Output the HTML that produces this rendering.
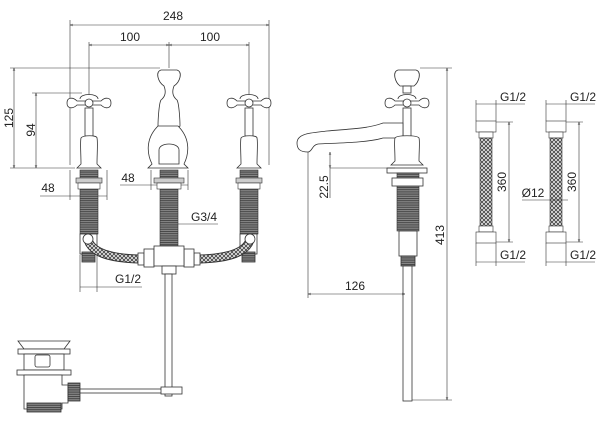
<!DOCTYPE html>
<html><head><style>body{margin:0;background:#fff}svg{display:block}text{font-family:"Liberation Sans",sans-serif;font-size:12px;fill:#222}</style></head><body>
<svg width="600" height="441" viewBox="0 0 600 441" xmlns="http://www.w3.org/2000/svg">
<defs>
<pattern id="thr" width="4" height="2.2" patternUnits="userSpaceOnUse"><rect width="4" height="2.2" fill="#888"/><rect width="4" height="1" fill="#444"/></pattern>
<pattern id="br" width="4" height="4" patternUnits="userSpaceOnUse"><rect width="4" height="4" fill="#eee"/><path d="M0 0L4 4M4 0L0 4" stroke="#444" stroke-width="0.9"/></pattern>
<marker id="a" viewBox="0 0 6 6" refX="6" refY="3" markerWidth="5" markerHeight="5" orient="auto-start-reverse"><path d="M0 1L6 3L0 5" fill="none" stroke="#333" stroke-width="0.8"/></marker>
<g id="cross">
<path d="M-22 0c0-6 6-6 10-2h24c4-4 10-4 10 2s-6 6-10 2h-24c-4 4-10 4-10-2z" fill="#fff" stroke="#333" stroke-width="0.8"/>
<path d="M-9 -4c0-6 18-6 18 0" fill="#fff" stroke="#333" stroke-width="0.8"/>
<circle r="4" fill="#fff" stroke="#333" stroke-width="0.8"/>
</g>
<g id="tap">
<use href="#cross" y="103"/>
<rect x="-4" y="108" width="8" height="28" fill="#fff" stroke="#333" stroke-width="0.8"/>
<path d="M-12 168l4-4c0-10-1-22 0-26 2-3 16-3 16 0 1 4 0 16 0 26l4 4z" fill="#fff" stroke="#333" stroke-width="0.8"/>
<rect x="-9" y="170" width="18" height="64" fill="url(#thr)" stroke="#333" stroke-width="0.6"/>
<rect x="-13" y="178" width="26" height="5" fill="#ccc" stroke="#333" stroke-width="0.6"/>
<rect x="-11" y="183" width="22" height="6" fill="#fff" stroke="#333" stroke-width="0.6"/>
</g>
</defs>
<g fill="none" stroke="#333" stroke-width="0.6">
<line x1="70" y1="25" x2="269" y2="25" marker-start="url(#a)" marker-end="url(#a)"/>
<line x1="70" y1="20" x2="70" y2="165"/><line x1="269" y1="20" x2="269" y2="165"/>
<line x1="89" y1="45" x2="169" y2="45" marker-start="url(#a)" marker-end="url(#a)"/>
<line x1="169" y1="45" x2="249" y2="45" marker-start="url(#a)" marker-end="url(#a)"/>
<line x1="89" y1="42" x2="89" y2="95"/><line x1="169" y1="42" x2="169" y2="68"/><line x1="249" y1="42" x2="249" y2="95"/>
<line x1="14" y1="68" x2="14" y2="168" marker-start="url(#a)" marker-end="url(#a)"/>
<line x1="10" y1="68" x2="160" y2="68"/><line x1="10" y1="168" x2="75" y2="168"/>
<line x1="36" y1="93" x2="36" y2="168" marker-start="url(#a)" marker-end="url(#a)"/>
<line x1="32" y1="93" x2="82" y2="93"/>
<line x1="40" y1="196" x2="107" y2="196"/><line x1="70" y1="170" x2="70" y2="200"/><line x1="107" y1="170" x2="107" y2="200"/>
<line x1="120" y1="185" x2="188" y2="185"/><line x1="151" y1="170" x2="151" y2="190"/><line x1="188" y1="170" x2="188" y2="190"/>
<line x1="160" y1="224" x2="218" y2="224"/>
<line x1="80" y1="287" x2="142" y2="287"/><line x1="80" y1="255" x2="80" y2="292"/><line x1="97" y1="255" x2="97" y2="292"/>
</g>
<text x="173" y="20" text-anchor="middle">248</text>
<text x="130" y="41" text-anchor="middle">100</text>
<text x="210" y="41" text-anchor="middle">100</text>
<text transform="translate(13,118) rotate(-90)" text-anchor="middle">125</text>
<text transform="translate(35,130) rotate(-90)" text-anchor="middle">94</text>
<text x="48" y="192" text-anchor="middle">48</text>
<text x="128" y="182" text-anchor="middle">48</text>
<text x="204" y="221" text-anchor="middle">G3/4</text>
<text x="128" y="283" text-anchor="middle">G1/2</text>
<use href="#tap" x="89"/><use href="#tap" x="249"/>
<g stroke="#333" stroke-width="0.8" fill="#fff">
<path d="M161 70c-6 2-3 12 3 16 2 5 2 10-3 14-2 3-3 20-3 26 0 2 22 2 22 0 0-6-1-23-3-26-5-4-5-9-3-14 6-4 9-14 3-16z"/>
<path d="M158 126c-14 14-10 30-6 38l-4 4h40l-4-4c4-8 8-24-6-38z"/>
<path d="M159 150c0-8 20-8 20 0v14h-20z"/>
<rect x="160" y="170" width="18" height="76" fill="url(#thr)" stroke-width="0.6"/>
<rect x="154" y="178" width="30" height="5" fill="#ccc" stroke-width="0.6"/>
<rect x="157" y="183" width="24" height="6" stroke-width="0.6"/>
<rect x="80" y="234" width="17" height="20"/><rect x="82" y="252" width="13" height="10" fill="url(#thr)"/>
<rect x="240" y="234" width="17" height="20"/><rect x="242" y="252" width="13" height="10" fill="url(#thr)"/>
<path d="M88 240c4 12 20 18 50 19" fill="none" stroke="#333" stroke-width="9"/>
<path d="M88 240c4 12 20 18 50 19" fill="none" stroke="url(#br)" stroke-width="7"/>
<path d="M250 240c-4 12-20 18-50 19" fill="none" stroke="#333" stroke-width="9"/>
<path d="M250 240c-4 12-20 18-50 19" fill="none" stroke="url(#br)" stroke-width="7"/>
<circle cx="88" cy="239" r="5"/><circle cx="250" cy="239" r="5"/>
<rect x="138" y="253" width="6" height="12"/><rect x="194" y="253" width="6" height="12"/>
<rect x="144" y="249" width="10" height="18"/><rect x="184" y="249" width="10" height="18"/>
<rect x="154" y="246" width="30" height="20"/>
<rect x="162" y="266" width="14" height="8"/>
<rect x="165" y="274" width="7" height="122"/>
<path d="M18 341h52l-6 8h-40z"/>
<rect x="18" y="349" width="52" height="5"/>
<rect x="24" y="354" width="40" height="16"/>
<rect x="35" y="355" width="15" height="12" rx="2"/>
<rect x="17" y="370" width="54" height="5"/>
<path d="M24 375h38v10h6v18h-6v6h-38z"/>
<rect x="27" y="403" width="34" height="9" fill="url(#thr)"/>
<rect x="68" y="383" width="12" height="18" fill="url(#thr)"/>
<rect x="80" y="389" width="82" height="4"/>
<rect x="161" y="387" width="21" height="7"/>
<use href="#cross" x="407" y="103"/>
<path d="M398 70c-6 2-3 12 2 16h14c5-4 8-14 2-16z"/>
<rect x="403" y="86" width="8" height="7"/>
<rect x="403" y="108" width="8" height="30"/>
<path d="M297 143c0-10 15-10 30-12 20-2 40-2 56 -8l20 0 0 15h-20c-16 5-50 5-65 6-6 1-6 8-10 8-8 0-11-3-11-9z"/>
<path d="M391 165l4-4c0-10-1-20 0-23 2-3 22-3 24 0 1 3 0 13 0 23l4 4z"/>
<rect x="387" y="168" width="40" height="5"/>
<rect x="397" y="173" width="22" height="58" fill="url(#thr)" stroke-width="0.6"/>
<rect x="392" y="178" width="31" height="8"/>
<rect x="399" y="231" width="18" height="25"/>
<rect x="401" y="256" width="14" height="10" fill="url(#thr)"/>
<rect x="403" y="266" width="9" height="135"/>
</g>
<g fill="none" stroke="#333" stroke-width="0.6">
<line x1="447" y1="68" x2="447" y2="400" marker-start="url(#a)" marker-end="url(#a)"/>
<line x1="420" y1="68" x2="452" y2="68"/><line x1="412" y1="400" x2="452" y2="400"/>
<line x1="308" y1="294" x2="405" y2="294" marker-start="url(#a)" marker-end="url(#a)"/>
<line x1="308" y1="152" x2="308" y2="298"/>
<line x1="330" y1="152" x2="330" y2="168" marker-start="url(#a)" marker-end="url(#a)"/>
<line x1="330" y1="168" x2="330" y2="198"/>
<line x1="330" y1="168" x2="395" y2="168"/>
</g>
<text x="355" y="290" text-anchor="middle">126</text>
<text transform="translate(328,187) rotate(-90)" text-anchor="middle">22.5</text>
<text transform="translate(444,235) rotate(-90)" text-anchor="middle">413</text>
<g stroke="#333" stroke-width="0.6" fill="#fff">
<g id="hose">
<rect x="476" y="121" width="20" height="11"/><rect x="479" y="132" width="14" height="6"/>
<rect x="480" y="138" width="12" height="93" fill="url(#br)"/>
<rect x="479" y="226" width="14" height="6"/><rect x="476" y="232" width="20" height="11"/>
<line x1="476" y1="104" x2="525" y2="104"/><line x1="476" y1="100" x2="476" y2="121"/><line x1="496" y1="100" x2="496" y2="121"/>
<line x1="476" y1="262" x2="525" y2="262"/><line x1="476" y1="243" x2="476" y2="266"/><line x1="496" y1="243" x2="496" y2="266"/>
<line x1="509" y1="122" x2="509" y2="242" marker-start="url(#a)" marker-end="url(#a)"/>
<line x1="496" y1="122" x2="513" y2="122"/><line x1="496" y1="242" x2="513" y2="242"/>
</g>
<use href="#hose" x="70"/>
<line x1="522" y1="200" x2="568" y2="200"/>
</g>
<text x="513" y="101" text-anchor="middle">G1/2</text>
<text x="583" y="101" text-anchor="middle">G1/2</text>
<text x="513" y="259" text-anchor="middle">G1/2</text>
<text x="583" y="259" text-anchor="middle">G1/2</text>
<text transform="translate(506,182) rotate(-90)" text-anchor="middle">360</text>
<text transform="translate(576,182) rotate(-90)" text-anchor="middle">360</text>
<text x="533" y="197" text-anchor="middle">Ø12</text>
</svg>
</body></html>
